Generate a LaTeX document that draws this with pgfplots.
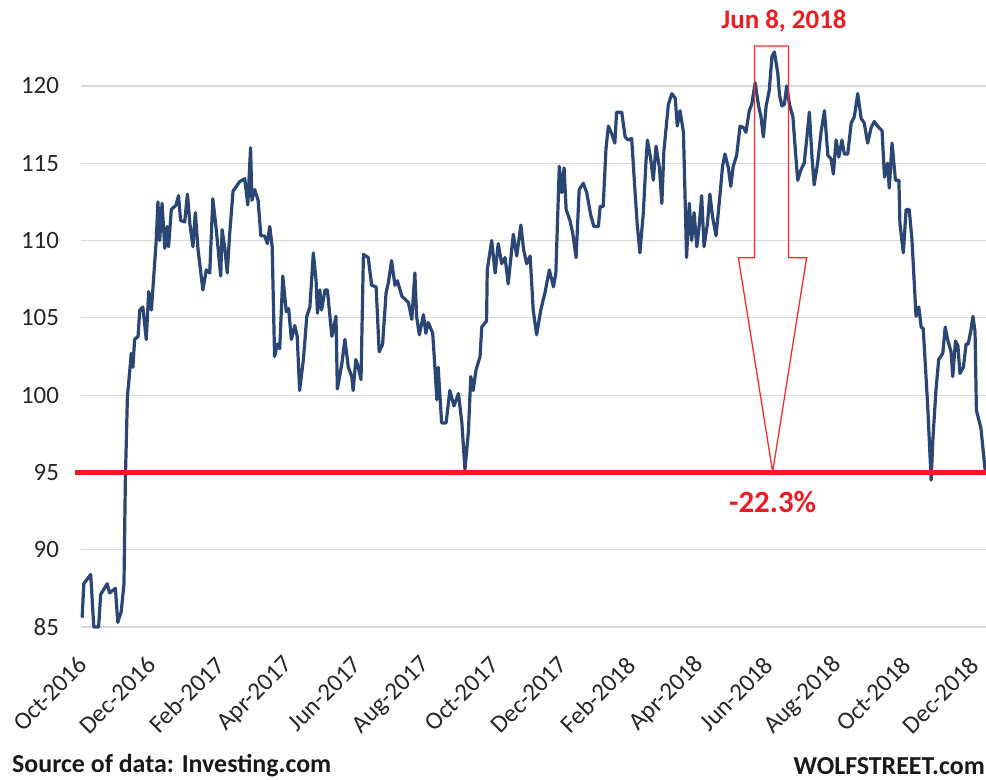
\documentclass[border=0pt]{standalone}
\usepackage{fontspec}
\setmainfont{Carlito}
\usepackage{pgfplots}
\pgfplotsset{compat=1.18}
\definecolor{navy}{HTML}{2A4674}
\definecolor{wsred}{HTML}{ED1C24}
\definecolor{boxred}{HTML}{FF2A2A}
\definecolor{gridgray}{HTML}{D9D9D9}

% x = months since Oct-2016 (0 = Oct-2016, 2 = Dec-2016, ...)
\pgfplotstableread{
x y
-0.17 85.6
-0.12 87.8
0.08 88.4
0.17 85.0
0.31 85.0
0.37 87.1
0.56 87.8
0.63 87.2
0.80 87.5
0.87 85.3
0.97 86.0
1.05 87.8
1.09 94.5
1.15 99.9
1.24 102.1
1.26 102.7
1.31 101.8
1.36 103.6
1.46 103.8
1.51 105.5
1.60 105.7
1.70 103.6
1.77 106.7
1.85 105.5
1.99 110.0
2.04 112.5
2.09 110.0
2.16 112.4
2.24 109.5
2.31 110.9
2.35 109.6
2.43 112.0
2.57 112.3
2.64 112.9
2.70 111.3
2.82 111.2
2.90 113.0
2.97 111.1
3.06 109.6
3.13 111.8
3.21 109.4
3.35 106.8
3.45 108.1
3.55 107.9
3.64 112.7
3.74 110.7
3.87 107.7
3.91 110.7
3.99 109.5
4.06 107.9
4.13 110.4
4.23 113.2
4.42 113.8
4.57 114.0
4.66 112.3
4.74 116.0
4.78 112.6
4.86 113.3
4.96 112.6
5.04 110.3
5.15 110.3
5.23 109.8
5.30 110.9
5.37 109.6
5.44 102.5
5.52 103.3
5.59 103.0
5.68 107.7
5.78 105.4
5.85 105.6
5.93 103.6
6.03 104.5
6.10 103.8
6.17 100.3
6.28 102.3
6.38 105.1
6.47 105.7
6.57 109.2
6.65 107.4
6.69 105.3
6.76 106.8
6.81 105.5
6.91 106.8
6.98 106.8
7.11 103.8
7.23 105.1
7.27 100.4
7.40 102.0
7.49 103.6
7.59 101.8
7.69 101.2
7.73 100.3
7.81 102.3
7.88 101.8
7.96 101.0
8.03 109.1
8.17 108.9
8.27 107.1
8.40 107.0
8.49 102.8
8.59 103.3
8.69 106.6
8.76 107.3
8.85 108.7
8.95 107.1
9.02 107.4
9.15 106.4
9.34 106.0
9.44 104.9
9.53 107.9
9.58 105.1
9.66 103.9
9.78 105.2
9.85 104.0
9.92 104.7
10.05 104.0
10.12 101.6
10.17 99.7
10.21 101.8
10.31 98.2
10.44 98.2
10.55 100.3
10.67 99.3
10.80 100.1
10.90 98.2
10.99 95.2
11.09 97.6
11.16 101.2
11.23 100.3
11.31 101.6
11.43 102.5
11.48 104.4
11.62 104.8
11.64 108.1
11.77 110.0
11.87 107.9
11.96 109.8
12.06 108.5
12.16 108.9
12.25 107.2
12.40 110.4
12.50 109.0
12.62 111.0
12.70 109.4
12.79 108.5
12.89 109.0
12.98 105.5
13.08 103.9
13.20 105.5
13.32 106.6
13.45 108.1
13.57 107.0
13.64 107.9
13.74 114.8
13.81 113.1
13.88 114.7
13.94 112.0
14.05 111.3
14.13 110.5
14.23 108.9
14.32 113.3
14.44 113.7
14.54 113.1
14.66 111.6
14.75 110.9
14.88 110.9
14.93 112.2
15.02 112.2
15.10 115.9
15.17 117.4
15.27 116.9
15.36 116.3
15.41 118.3
15.56 118.3
15.66 116.7
15.75 116.5
15.85 116.6
15.95 113.1
16.01 111.1
16.09 109.2
16.19 111.8
16.27 115.2
16.31 116.5
16.41 115.2
16.48 113.9
16.56 116.1
16.66 114.7
16.73 112.4
16.79 115.8
16.92 118.8
17.02 119.5
17.12 119.2
17.18 117.4
17.26 118.4
17.36 117.0
17.45 108.9
17.53 112.4
17.60 110.0
17.67 111.8
17.75 109.6
17.82 111.0
17.89 112.9
17.96 109.6
18.06 111.1
18.13 113.0
18.21 111.5
18.31 110.3
18.41 112.6
18.50 114.8
18.57 115.6
18.67 114.7
18.74 113.5
18.81 114.8
18.91 115.5
19.01 117.4
19.11 117.3
19.18 117.0
19.28 118.4
19.35 118.8
19.45 120.2
19.55 118.7
19.62 118.0
19.69 116.7
19.77 118.7
19.86 119.7
19.94 121.9
20.01 122.2
20.11 120.8
20.16 119.4
20.23 118.7
20.30 118.8
20.37 120.0
20.45 118.8
20.55 118.0
20.62 115.9
20.69 113.9
20.79 114.6
20.88 115.0
20.95 116.5
21.03 118.3
21.11 115.3
21.17 113.6
21.27 115.0
21.37 117.0
21.47 118.4
21.57 115.5
21.66 115.3
21.73 114.3
21.81 116.5
21.89 115.4
21.98 116.5
22.05 115.6
22.15 115.6
22.25 117.6
22.34 118.0
22.44 119.5
22.54 117.9
22.63 117.6
22.73 116.3
22.83 117.3
22.92 117.7
23.02 117.4
23.15 117.1
23.22 114.1
23.31 115.0
23.36 113.4
23.44 116.3
23.54 113.9
23.64 113.9
23.67 111.1
23.77 109.2
23.85 112.0
23.94 112.0
24.02 110.1
24.14 105.1
24.22 105.7
24.29 104.4
24.35 104.3
24.48 99.3
24.58 94.5
24.63 97.1
24.72 100.3
24.80 102.3
24.92 102.7
24.99 104.4
25.06 103.6
25.16 102.8
25.21 101.2
25.29 103.5
25.36 103.2
25.42 101.4
25.52 101.8
25.60 103.3
25.66 103.3
25.74 104.2
25.80 105.1
25.86 104.1
25.90 99.0
26.03 97.9
26.16 95.0
}\pricedata

\begin{document}
\begin{tikzpicture}
\path[use as bounding box] (0,0) rectangle (986bp,-780bp);
\begin{axis}[
  at={(81.1bp,-627bp)}, anchor=south west,
  scale only axis,
  width=905.6bp, height=595.2bp,
  xmin=-0.2, xmax=26.2,
  ymin=85, ymax=123.5,
  clip=false,
  axis line style={draw=none},
  major tick length=0pt,
  ytick={85,90,...,120},
  xtick={0,2,...,26},
  xticklabels={Oct-2016,Dec-2016,Feb-2017,Apr-2017,Jun-2017,Aug-2017,Oct-2017,Dec-2017,Feb-2018,Apr-2018,Jun-2018,Aug-2018,Oct-2018,Dec-2018},
  ymajorgrids,
  grid style={draw=gridgray, line width=1.2bp},
  /pgf/number format/assume math mode=true,
  ticklabel style={font=\fontsize{25}{25}\selectfont, text=black!85},
  yticklabel style={anchor=east, inner sep=0pt, xshift=-22bp},
  xticklabel style={rotate=45, anchor=east, inner sep=0pt, xshift=-27.6bp, yshift=-20.5bp},
]
\addplot[navy, line width=3.2bp, line join=round] table[x=x, y=y] {\pricedata};
\draw[wsred, line width=5bp] (axis cs:-0.38,95) -- (axis cs:26.2,95);
\draw[boxred, line width=1.3bp, line join=miter] (axis cs:19.43,122.58) -- (axis cs:20.42,122.58) -- (axis cs:20.42,108.89) -- (axis cs:20.95,108.89) -- (axis cs:19.96,95.03) -- (axis cs:18.96,108.89) -- (axis cs:19.43,108.89) -- cycle;
\node[text=wsred, font=\fontsize{27}{27}\selectfont\bfseries] at (axis cs:20.29,124.2) {Jun 8, 2018};
\node[text=wsred, font=\fontsize{31}{31}\selectfont\bfseries] at (axis cs:19.96,93.1) {-22.3\%};
\end{axis}
\node[anchor=west, inner sep=0pt, font=\fontsize{26}{26}\selectfont\bfseries, text=black!90] at (12bp,-766bp) {Source of data: Investing.com};
\node[anchor=east, inner sep=0pt, font=\fontsize{26}{26}\selectfont\bfseries, text=black!90] at (985bp,-766bp) {WOLFSTREET.com};
\end{tikzpicture}
\end{document}
